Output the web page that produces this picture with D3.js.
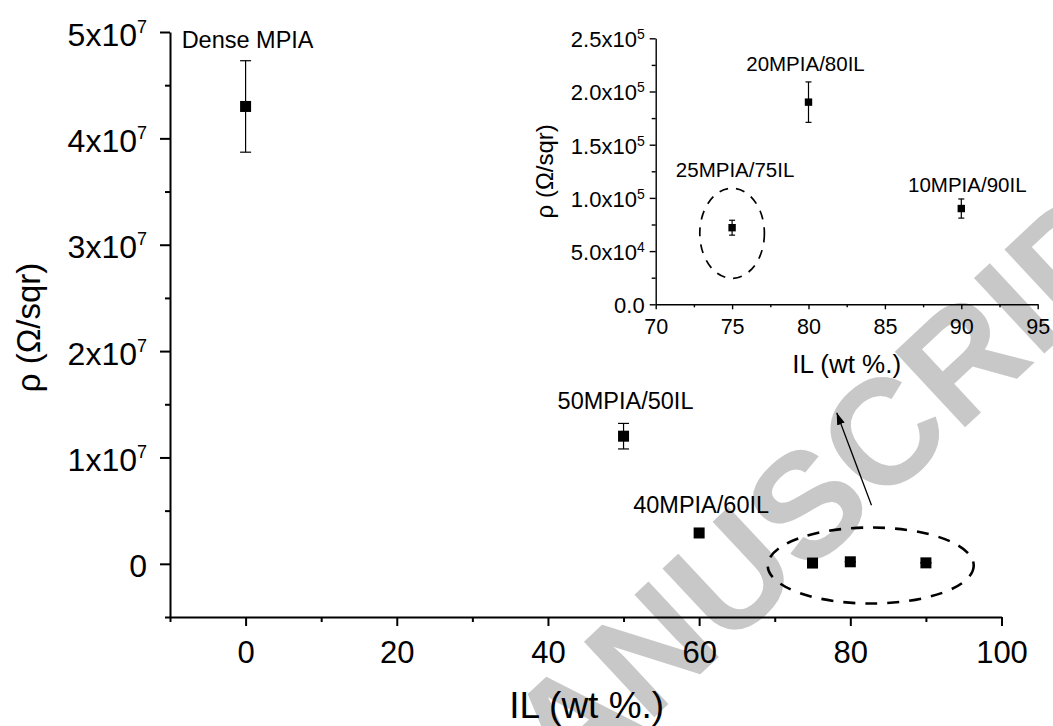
<!DOCTYPE html>
<html>
<head>
<meta charset="utf-8">
<script src="https://cdn.jsdelivr.net/npm/d3@7"></script>
<style>
  body { margin: 0; background: #fff; }
  svg { display: block; font-family: "Liberation Sans", Arial, sans-serif; }
</style>
</head>
<body>
<div id="wrapper"></div>
<script>
// main plot data
const mainIL = [0, 50, 60, 75, 80, 90];
const mainRho = [4.30e7, 1.20e7, 2.9e6, 7.2e4, 1.9e5, 9.0e4];
const mainErr = [4.3e6, 1.2e6, 0, 7e3, 1.9e4, 9e3];
const mainNames = ["Dense MPIA", "50MPIA/50IL", "40MPIA/60IL"];

// inset data
const insetIL = [75, 80, 90];
const insetRho = [7.2e4, 1.9e5, 9.0e4];
const insetErr = [7e3, 1.9e4, 9e3];
const insetNames = ["25MPIA/75IL", "20MPIA/80IL", "10MPIA/90IL"];

// ticks
const mainXTicks = [0, 20, 40, 60, 80, 100];
const mainXMinor = [-10, 10, 30, 50, 70, 90];
const mainYTicks = [0, 1e7, 2e7, 3e7, 4e7, 5e7];
const mainYMinor = [-5e6, 5e6, 1.5e7, 2.5e7, 3.5e7, 4.5e7];
const insetXTicks = [70, 75, 80, 85, 90, 95];
const insetXMinor = [72.5, 77.5, 82.5, 87.5, 92.5];
const insetYTicks = [0, 5e4, 1e5, 1.5e5, 2e5, 2.5e5];
const insetYMinor = [2.5e4, 7.5e4, 1.25e5, 1.75e5, 2.25e5];

const width = 1053, height = 726;

const svg = d3.select("#wrapper")
  .append("svg")
  .attr("width", width)
  .attr("height", height);

/* watermark, behind everything */
svg.append("text")
  .attr("transform", "translate(842,542) rotate(-43)")
  .attr("text-anchor", "middle")
  .attr("font-size", 150)
  .attr("font-weight", "bold")
  .attr("fill", "#c8c8c8")
  .text("MANUSCRIPT");

/* scales */
const x = d3.scaleLinear().domain([-10, 100]).range([170, 1001.5]);
const y = d3.scaleLinear().domain([-5e6, 5e7]).range([617, 32]);
const xi = d3.scaleLinear().domain([70, 95]).range([655.7, 1037.7]);
const yi = d3.scaleLinear().domain([0, 2.5e5]).range([304.3, 38.3]);

function styleAxis(g, sw) {
  g.selectAll("path, line").attr("stroke", "#000").attr("stroke-width", sw);
}

// main x axis
const gx = svg.append("g").attr("transform", `translate(0,${y(-5e6)})`)
  .call(d3.axisBottom(x).tickValues(mainXTicks).tickSize(9).tickSizeOuter(0).tickPadding(15));
gx.selectAll("text").attr("font-size", 31).attr("font-family", null);
styleAxis(gx, 2);
const gx2 = svg.append("g").attr("transform", `translate(0,${y(-5e6)})`)
  .call(d3.axisBottom(x).tickValues(mainXMinor).tickSize(5).tickFormat(""));
gx2.select(".domain").remove();
styleAxis(gx2, 2);

// main y axis
const gy = svg.append("g").attr("transform", `translate(${x(-10)},0)`)
  .call(d3.axisLeft(y).tickValues(mainYTicks).tickSize(10).tickSizeOuter(0).tickPadding(13));
styleAxis(gy, 2);
gy.selectAll("text")
  .attr("font-size", 32).attr("font-family", null).attr("dy", "0.41em")
  .each(function(d) {
    const t = d3.select(this).text("");
    if (d === 0) { t.text("0"); return; }
    t.append("tspan").text((d / 1e7) + "x10");
    t.append("tspan").attr("font-size", 18).attr("dy", -13).text("7");
  });
const gy2 = svg.append("g").attr("transform", `translate(${x(-10)},0)`)
  .call(d3.axisLeft(y).tickValues(mainYMinor).tickSize(5).tickFormat(""));
gy2.select(".domain").remove();
styleAxis(gy2, 2);

// main axis titles
svg.append("text")
  .attr("x", (x(-10) + x(100)) / 2 + 1).attr("y", 718)
  .attr("text-anchor", "middle").attr("font-size", 37)
  .text("IL (wt %.)");
svg.append("text")
  .attr("transform", `translate(40,${(y(-5e6) + y(5e7)) / 2 + 3}) rotate(-90)`)
  .attr("text-anchor", "middle").attr("font-size", 33)
  .text("ρ (Ω/sqr)");

/* main data: error bars + squares */
const mainData = mainIL.map((d, i) => ({ x: d, y: mainRho[i], e: mainErr[i] }));
const eb = svg.append("g").attr("stroke", "#000").attr("stroke-width", 1.2);
mainData.filter(d => d.e > 0).forEach(d => {
  eb.append("line").attr("x1", x(d.x)).attr("x2", x(d.x))
    .attr("y1", y(d.y + d.e)).attr("y2", y(d.y - d.e));
  [d.y + d.e, d.y - d.e].forEach(v => {
    eb.append("line").attr("x1", x(d.x) - 5.5).attr("x2", x(d.x) + 5.5)
      .attr("y1", y(v)).attr("y2", y(v));
  });
});
svg.selectAll(".mainPt")
  .data(mainData)
  .enter()
  .append("rect")
  .attr("class", "mainPt")
  .attr("x", d => x(d.x) - 5.5)
  .attr("y", d => y(d.y) - 5.5)
  .attr("width", 11)
  .attr("height", 11)
  .attr("fill", "#000");

// main point labels, centred over the first three points
const mainLabelDy = [-58, -27, -20];
svg.selectAll(".mainLbl")
  .data(mainNames)
  .enter()
  .append("text")
  .attr("class", "mainLbl")
  .attr("x", (d, i) => x(mainIL[i]) + 2)
  .attr("y", (d, i) => y(mainRho[i]) + mainLabelDy[i])
  .attr("text-anchor", "middle")
  .attr("font-size", 23.5)
  .text(d => d);

// dashed ellipse around the high-IL points + arrow to the inset
svg.append("ellipse")
  .attr("cx", x(82.7)).attr("cy", y(0) + 1.7)
  .attr("rx", 103).attr("ry", 38)
  .attr("fill", "none").attr("stroke", "#000")
  .attr("stroke-width", 2.6).attr("stroke-dasharray", "12,10");

svg.append("defs").append("marker")
  .attr("id", "arrowHead")
  .attr("viewBox", "0 0 12 8")
  .attr("refX", 12).attr("refY", 4)
  .attr("markerWidth", 12).attr("markerHeight", 8)
  .attr("markerUnits", "userSpaceOnUse")
  .attr("orient", "auto")
  .append("path").attr("d", "M0,0 L12,4 L0,8 Z").attr("fill", "#000");
svg.append("line")
  .attr("x1", x(82.8)).attr("y1", y(5.5e6))
  .attr("x2", x(78.2)).attr("y2", y(1.42e7))
  .attr("stroke", "#000").attr("stroke-width", 1.3)
  .attr("marker-end", "url(#arrowHead)");

/* inset */
const ix = svg.append("g").attr("transform", `translate(0,${yi(0)})`)
  .call(d3.axisBottom(xi).tickValues(insetXTicks).tickSize(5).tickSizeOuter(0).tickPadding(9));
ix.selectAll("text").attr("font-size", 21.5).attr("font-family", null);
styleAxis(ix, 1.4);
const ix2 = svg.append("g").attr("transform", `translate(0,${yi(0)})`)
  .call(d3.axisBottom(xi).tickValues(insetXMinor).tickSize(3).tickFormat(""));
ix2.select(".domain").remove();
styleAxis(ix2, 1.4);

const iy = svg.append("g").attr("transform", `translate(${xi(70)},0)`)
  .call(d3.axisLeft(yi).tickValues(insetYTicks).tickSize(6).tickSizeOuter(0).tickPadding(5));
styleAxis(iy, 1.4);
iy.selectAll("text")
  .attr("font-size", 22).attr("font-family", null).attr("dy", "0.38em")
  .each(function(d) {
    const t = d3.select(this).text("");
    if (d === 0) { t.text("0.0"); return; }
    const ex = Math.floor(Math.log10(d));
    t.append("tspan").text((d / Math.pow(10, ex)).toFixed(1) + "x10");
    t.append("tspan").attr("font-size", 14).attr("dy", -8).text(ex);
  });
const iy2 = svg.append("g").attr("transform", `translate(${xi(70)},0)`)
  .call(d3.axisLeft(yi).tickValues(insetYMinor).tickSize(4).tickFormat(""));
iy2.select(".domain").remove();
styleAxis(iy2, 1.4);

svg.append("text")
  .attr("x", (xi(70) + xi(95)) / 2).attr("y", 373)
  .attr("text-anchor", "middle").attr("font-size", 26)
  .text("IL (wt %.)");
svg.append("text")
  .attr("transform", `translate(553,${(yi(0) + yi(2.5e5)) / 2}) rotate(-90)`)
  .attr("text-anchor", "middle").attr("font-size", 24)
  .text("ρ (Ω/sqr)");

const insetData = insetIL.map((d, i) => ({ x: d, y: insetRho[i], e: insetErr[i] }));
const ieb = svg.append("g").attr("stroke", "#000").attr("stroke-width", 1.2);
insetData.forEach(d => {
  ieb.append("line").attr("x1", xi(d.x)).attr("x2", xi(d.x))
    .attr("y1", yi(d.y + d.e)).attr("y2", yi(d.y - d.e));
  [d.y + d.e, d.y - d.e].forEach(v => {
    ieb.append("line").attr("x1", xi(d.x) - 3).attr("x2", xi(d.x) + 3)
      .attr("y1", yi(v)).attr("y2", yi(v));
  });
});
svg.selectAll(".insetPt")
  .data(insetData)
  .enter()
  .append("rect")
  .attr("class", "insetPt")
  .attr("x", d => xi(d.x) - 3.7)
  .attr("y", d => yi(d.y) - 3.7)
  .attr("width", 7.4)
  .attr("height", 7.4)
  .attr("fill", "#000");

const insetLabelDx = [3, -3, 6];
const insetLabelDy = [-50.6, -31, -16.6];
svg.selectAll(".insetLbl")
  .data(insetNames)
  .enter()
  .append("text")
  .attr("class", "insetLbl")
  .attr("x", (d, i) => xi(insetIL[i]) + insetLabelDx[i])
  .attr("y", (d, i) => yi(insetRho[i]) + insetLabelDy[i])
  .attr("text-anchor", "middle")
  .attr("font-size", 20.5)
  .text(d => d);

svg.append("ellipse")
  .attr("cx", xi(75)).attr("cy", yi(6.67e4))
  .attr("rx", 32.3).attr("ry", 45)
  .attr("fill", "none").attr("stroke", "#000")
  .attr("stroke-width", 1.7).attr("stroke-dasharray", "9,8");
</script>
</body>
</html>
